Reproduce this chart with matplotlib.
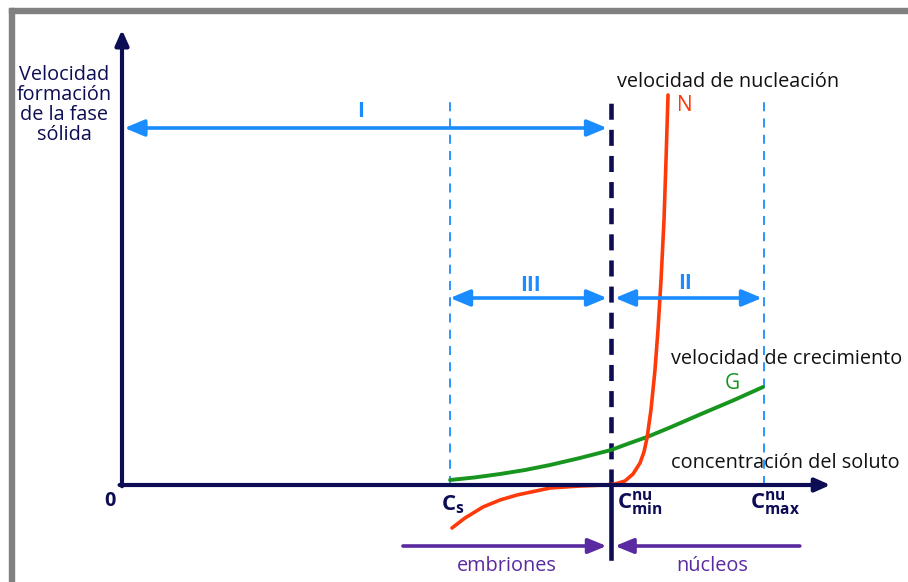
import matplotlib
matplotlib.use("Agg")
import matplotlib.pyplot as plt
from matplotlib.patches import Rectangle

plt.rcParams['font.family'] = ['Open Sans', 'DejaVu Sans']
plt.rcParams['mathtext.fontset'] = 'custom'
plt.rcParams['mathtext.rm'] = 'Open Sans'
plt.rcParams['mathtext.bf'] = 'Open Sans:bold'

# Characteristic concentrations (arbitrary units)
C_S = 4.075
C_MIN = 6.075
C_MAX = 7.98

# Growth rate G vs solute concentration
growth_c = [4.075, 4.385, 4.696, 5.006, 5.317, 5.689, 6.075, 6.311, 6.522,
            6.807, 7.18, 7.59, 7.963]
growth_v = [0.125, 0.19, 0.275, 0.375, 0.5, 0.675, 0.875, 1.05, 1.2,
            1.4375, 1.7625, 2.1125, 2.45]

# Nucleation rate N vs solute concentration
nucl_c = [4.099, 4.261, 4.484, 4.696, 4.907, 5.317, 5.689, 6.0, 6.124, 6.248,
          6.348, 6.435, 6.484, 6.522, 6.571, 6.621, 6.658, 6.696, 6.733,
          6.758, 6.783]
nucl_v = [-1.075, -0.825, -0.55, -0.375, -0.25, -0.075, -0.025, 0.0, 0.025,
          0.1, 0.275, 0.55, 0.825, 1.175, 1.875, 2.875, 3.875, 5.125, 6.625,
          8.125, 9.75]

NAVY = '#0d0d55'
BLUE = '#1a8cff'
RED = '#ff3a0a'
GREEN = '#17951f'
PURPLE = '#5a2aa0'
FS = 14.3

fig = plt.figure(figsize=(9.08, 5.82), dpi=100)
ax = fig.add_axes([0, 0, 1, 1])
ax.set_xlim(-122 / 80.5, (908 - 122) / 80.5)
ax.set_ylim(-(582 - 485) / 40, 485 / 40)
ax.axis('off')

# grey frame on top and left
fig.patches.append(Rectangle((9 / 908, 0), 5 / 908, 574 / 582,
                             transform=fig.transFigure, color='#808080', zorder=0))
fig.patches.append(Rectangle((9 / 908, 569 / 582), 899 / 908, 5 / 582,
                             transform=fig.transFigure, color='#808080', zorder=0))

# axes with arrows
x_end = 8.80
y_end = 11.38
ax.annotate('', xy=(x_end, 0), xytext=(-0.03, 0),
            arrowprops=dict(arrowstyle='-|>,head_length=0.9,head_width=0.4',
                            color=NAVY, lw=3, shrinkA=0, shrinkB=0))
ax.annotate('', xy=(0, y_end), xytext=(0, -0.03),
            arrowprops=dict(arrowstyle='-|>,head_length=0.9,head_width=0.4',
                            color=NAVY, lw=3, shrinkA=0, shrinkB=0))

# vertical reference lines
ax.plot([C_MIN, C_MIN], [0, 9.75], color=NAVY, lw=3.3, ls=(0, (3.5, 2.2)))
ax.plot([C_MIN, C_MIN], [-1.825, 0], color=NAVY, lw=3.3)
for c in (C_S, C_MAX):
    ax.plot([c, c], [0, 9.7], color=BLUE, lw=1.3, ls=(0, (5, 4)))

# curves
ax.plot(growth_c, growth_v, color=GREEN, lw=2.8, solid_capstyle='round',
        solid_joinstyle='round')
ax.plot(nucl_c, nucl_v, color=RED, lw=2.6, solid_capstyle='round',
        solid_joinstyle='round')

# region arrows
def region_arrow(x0, x1, y, color, style='<|-|>', hl=1.2, hw=0.5, lw=2.6):
    ax.annotate('', xy=(x1, y), xytext=(x0, y),
                arrowprops=dict(arrowstyle=f'{style},head_length={hl},head_width={hw}',
                                color=color, lw=lw, shrinkA=0, shrinkB=0))

region_arrow(0.03, 6.025, 8.925, BLUE)
region_arrow(C_S, 6.025, 4.675, BLUE)
region_arrow(6.124, 7.95, 4.675, BLUE)
region_arrow(3.49, 6.02, -1.525, PURPLE, style='-|>', hl=1.1, hw=0.45, lw=2.6)
region_arrow(8.42, 6.124, -1.525, PURPLE, style='-|>', hl=1.1, hw=0.45, lw=2.6)

# region labels
ax.text(2.96, 9.35, 'I', color=BLUE, fontsize=15, fontweight='bold', ha='center', va='center')
ax.text(5.07, 5.0, 'III', color=BLUE, fontsize=15, fontweight='bold', ha='center', va='center')
ax.text(7.0, 5.05, 'II', color=BLUE, fontsize=15, fontweight='bold', ha='center', va='center')

# axis texts
ax.text(-0.72, 9.5, 'Velocidad\nformación\nde la fase\nsólida', color=NAVY,
        fontsize=FS, ha='center', va='center', linespacing=1.0)
ax.text(-0.15, -0.4, '0', color=NAVY, fontsize=FS, fontweight='bold', ha='center', va='center')
ax.text(6.15, 10.08, 'velocidad de nucleación', color='#111111', fontsize=FS,
        ha='left', va='center')
ax.text(6.99, 9.5, 'N', color=RED, fontsize=15, ha='center', va='center')
ax.text(6.82, 3.15, 'velocidad de crecimiento', color='#111111', fontsize=FS,
        ha='left', va='center')
ax.text(7.58, 2.55, 'G', color=GREEN, fontsize=15, ha='center', va='center')
ax.text(6.82, 0.55, 'concentración del soluto', color='#111111', fontsize=FS,
        ha='left', va='center')

# concentration markers
ax.text(C_S + 0.04, -0.5, r'$\mathbf{C_s}$', color=NAVY, fontsize=16, ha='center', va='center')
ax.text(C_MIN + 0.07, -0.45, r'$\mathbf{C^{nu}_{min}}$', color=NAVY, fontsize=16,
        ha='left', va='center')
ax.text(C_MAX - 0.18, -0.45, r'$\mathbf{C^{nu}_{max}}$', color=NAVY, fontsize=16,
        ha='left', va='center')

ax.text(4.78, -2.03, 'embriones', color=PURPLE, fontsize=FS, ha='center', va='center')
ax.text(7.33, -2.03, 'núcleos', color=PURPLE, fontsize=FS, ha='center', va='center')

fig.savefig('out.png', dpi=100)
